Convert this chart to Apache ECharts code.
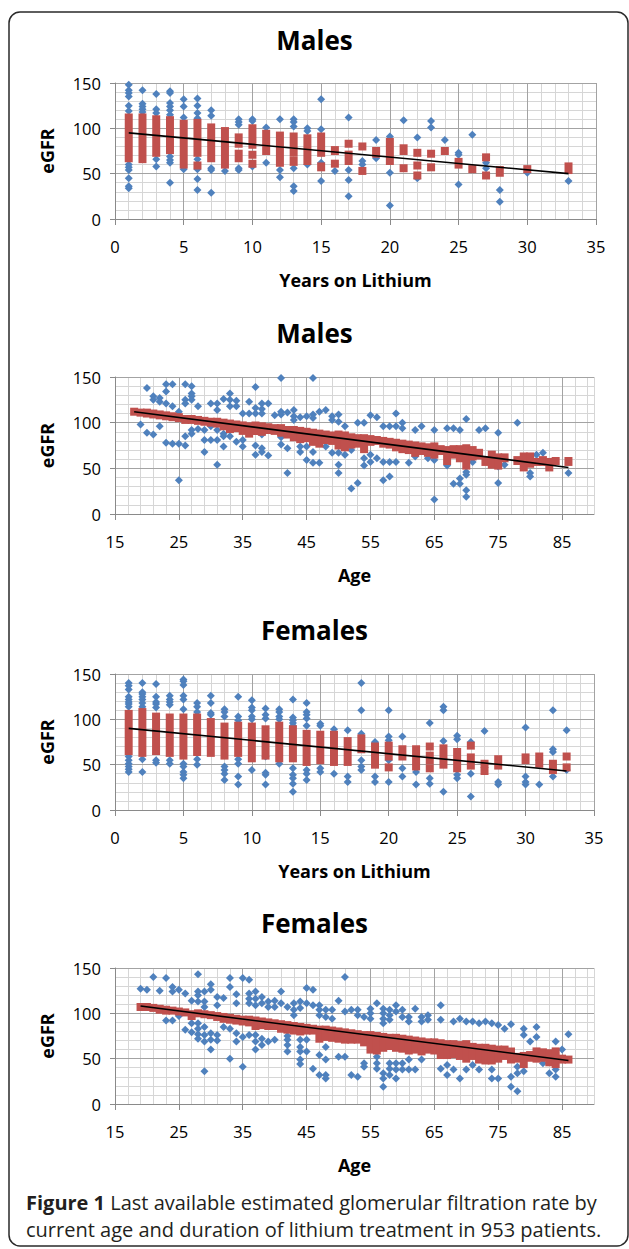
<!DOCTYPE html>
<html>
<head>
<meta charset="utf-8">
<script src="https://cdn.jsdelivr.net/npm/echarts@6.0.0/dist/echarts.min.js"></script>
<style>
html,body{margin:0;padding:0;background:#ffffff;}
#chart{width:629px;height:1249px;}
</style>
</head>
<body>
<div id="chart"></div>
<script>
// ---------- text ----------
const eGFRTicks = [0, 50, 100, 150];
const yearsTicks = [0, 5, 10, 15, 20, 25, 30, 35];
const ageTicks = [15, 25, 35, 45, 55, 65, 75, 85];
const panelTitles = ['Males', 'Males', 'Females', 'Females'];
const xAxisTitles = ['Years on Lithium', 'Age', 'Years on Lithium', 'Age'];
const yAxisTitle = 'eGFR';
const captionBold = 'Figure 1';
const captionLine1 = ' Last available estimated glomerular filtration rate by';
const captionLine2 = 'current age and duration of lithium treatment in 953 patients.';

// ---------- Males, years on lithium ----------
const malesYearsObs = [
  [1,[148,142,139,135,125,119,60,57,54,45,36,34]],
  [2,[142,127,124,121,118]],
  [3,[138,121,117,66,58]],
  [4,[141,139,128,124,120,115,69,65,62,40]],
  [5,[132,124,112,55]],
  [6,[133,125,117,111,66,55,44,32]],
  [7,[120,114,56,54,29]],
  [8,[53]],
  [9,[110,107,104,56,54]],
  [10,[110,108,58]],
  [11,[101,62]],
  [12,[110,54,46]],
  [13,[110,107,102,56,36,31]],
  [14,[100,97,60]],
  [15,[132,99,62,42]],
  [16,[53]],
  [17,[112,54,43,25]],
  [18,[64,60]],
  [19,[87,67]],
  [20,[91,51,15]],
  [21,[109]],
  [22,[90,45]],
  [23,[108,101]],
  [24,[87]],
  [25,[73,71,38]],
  [26,[93]],
  [27,[62,56]],
  [28,[32,19]],
  [30,[51]],
  [33,[42]]
];
const malesYearsPred = [
  [1,67,112],[2,66,112],[3,73,110],[4,76,109],[5,60,105],[6,73,106],[6,59,59],
  [7,67,101],[8,60,97],[9,83,90],[9,67,72],[10,82,100],[10,71,71],[10,61,61],
  [11,75,94],[12,62,92],[13,82,91],[13,73,73],[13,63,64],[14,64,89],[15,73,91],
  [15,57,58],[16,75,76],[16,61,61],[17,83,83],[17,64,71],[18,80,80],[18,53,53],
  [19,72,75],[20,64,85],[21,75,78],[21,56,56],[22,73,73],[22,59,59],[22,48,48],
  [23,72,72],[23,57,57],[24,75,75],[25,60,63],[26,55,55],[27,68,68],[27,48,48],
  [28,51,54],[30,55,55],[33,54,58]
];
const malesYearsTrend = [[1,95],[33,50]];

// ---------- Males, age ----------
const malesAgeObs = [
  [19,[98]],[20,[138,89]],[21,[129,125,87]],[22,[127,123,96]],[23,[142,134,121,78]],
  [24,[142,118,77]],[25,[112,77,37]],[26,[142,125,121,85,75]],[27,[140,132,129,125,92,88]],
  [28,[118,93]],[29,[92,81,68]],[30,[121,96,81]],[31,[121,114,92,81,54]],[32,[126,88,85,74]],
  [33,[132,125,118,85]],[34,[124,118,79]],[35,[110,81,74]],[36,[123,110]],
  [37,[139,116,110,75,65]],[38,[121,115,110,87,72,68]],[39,[121,64]],[40,[108]],
  [41,[149,112,109,84,76]],[42,[111,72,45]],[43,[114,107,103]],[44,[106,74,68]],
  [45,[107,74,59]],[46,[149,109,105,68,56]],[47,[112,78,56]],[48,[114,74]],
  [49,[107,103,67]],[50,[109,101,67,54,45]],[51,[96,65]],[52,[70,28]],[53,[100,34]],
  [54,[100,61,53]],[55,[108,65,57]],[56,[106,61]],[57,[96,57,37]],[58,[96,57,41]],
  [59,[110,96,57]],[60,[100,94]],[61,[56]],[62,[92,63]],[63,[96]],[64,[61]],
  [65,[92,59,16]],[67,[94,53]],[68,[94,33]],[69,[92,39,33]],[70,[104,46,43,26,19]],
  [71,[57]],[72,[92]],[73,[94]],[75,[89,52,34]],[76,[54]],[78,[100]],[80,[45,41]],
  [81,[65]],[82,[67]],[86,[45]]
];
const malesAgePred = [
  [18,112,112],[19,111,111],[20,110,111],[21,109,110],[22,108,109],[23,107,108],
  [24,106,107],[25,105,106],[26,103,104],[27,103,104],[28,102,103],[29,101,102],
  [30,100,101],[31,99,101],[32,96,100],[33,93,99],[34,94,98],[35,91,97],[36,88,96],
  [37,91,97],[38,90,96],[39,92,95],[40,91,94],[41,89,94],[42,87,92],[43,84,92],
  [44,82,91],[45,83,90],[46,79,89],[47,77,88],[48,81,87],[49,80,86],[50,75,87],
  [51,73,86],[52,76,84],[53,77,83],[54,71,83],[55,79,82],[56,80,81],[57,77,80],
  [58,76,79],[59,73,78],[60,71,77],[61,70,76],[62,67,75],[63,69,74],[64,67,73],
  [65,65,74],[66,69,71],[67,58,70],[68,65,71],[69,61,71],[70,53,72],[71,63,70],
  [72,64,67],[73,57,59],[74,54,65],[75,53,62],[76,61,62],[78,58,59],[79,51,63],
  [80,55,63],[81,57,57],[82,57,59],[83,51,57],[84,58,58],[86,57,58]
];
const malesAgeTrend = [[18,112],[86,51]];

// ---------- Females, years on lithium ----------
const femalesYearsObs = [
  [1,[140,137,133,125,122,119,117,114,59,55,51,48,45,42]],
  [2,[140,130,128,125,122,118,114,56,42]],
  [3,[139,125,119,117,113,55,52]],
  [4,[126,122,119,116,55,51]],
  [5,[144,142,138,126,122,111,51,48,42,39,35]],
  [6,[118,114,108,56,50]],
  [7,[126,118,107,105]],
  [8,[111,108,103,48,44,40,33]],
  [9,[125,103,99,56,51,37,28]],
  [10,[121,113,110,103,100,44]],
  [11,[112,105,101,59,41,39,28]],
  [12,[111,108,103,100,51]],
  [13,[122,102,99,96,93,46,39,35,29,20]],
  [14,[118,108,105,101,93,44,40,33]],
  [15,[95,93,46,42]],
  [16,[89,40]],
  [17,[88,37,31]],
  [18,[140,110,84,55,48,44]],
  [19,[75,74,37,31]],
  [20,[110,81,77,55,31]],
  [21,[81,46,37]],
  [22,[42,28]],
  [23,[96,35,29]],
  [24,[114,110,76,20]],
  [25,[82,78,39,35]],
  [26,[75,40,15]],
  [27,[87]],
  [28,[31,28]],
  [30,[91,37,31,28]],
  [31,[28]],
  [32,[110,67,64,37]],
  [33,[88,44]]
];
const femalesYearsPred = [
  [1,65,106],[2,63,108],[3,65,103],[4,63,102],[5,60,102],[6,64,102],[7,63,97],
  [8,60,92],[9,63,93],[10,57,92],[11,60,89],[12,57,93],[13,57,89],[14,53,84],
  [15,55,83],[16,53,83],[17,53,76],[18,67,79],[19,50,70],[20,59,71],[20,47,47],
  [21,59,67],[22,48,67],[23,70,70],[23,55,60],[23,46,46],[24,50,68],[25,46,64],
  [26,71,71],[26,49,58],[27,51,51],[27,43,43],[28,49,56],[30,55,58],[31,59,59],
  [31,51,51],[32,44,51],[33,59,59],[33,47,47]
];
const femalesYearsTrend = [[1,90],[33,43]];

// ---------- Females, age ----------
const femalesAgeObs = [
  [19,[127]],[20,[126]],[21,[140]],[22,[125]],[23,[139,92]],[24,[129,124,92]],
  [25,[126,97]],[26,[122,82]],[27,[114,89,79]],[28,[143,124,120,113,89,83,77,72]],
  [29,[124,113,107,85,76,69,36]],[30,[132,126,78,71,60]],[31,[118,109,76,70]],
  [32,[117,85]],[33,[139,129,83,50]],[34,[121,111,78,69]],[35,[139,74,41]],
  [36,[137,122,116,111,76]],[37,[124,116,109,76,69,60]],[38,[118,111,72,65]],
  [39,[113,107,69]],[40,[114,107,71]],[41,[124,111]],[42,[107,75,71,65,58]],
  [43,[111,104,98]],[44,[113,106,71,63,58,49,44]],[45,[128,111,71,58]],
  [46,[126,109,39]],[47,[109,104,98,54,32]],[48,[104,96,63,49,32,28]],
  [49,[104,94]],[50,[114,52]],[51,[140,102,52]],[52,[104,32]],[53,[104,98,30]],
  [54,[96,45,41]],[55,[105,100,94]],[56,[111,52,45,39]],[57,[105,100,94,89,34,28,19]],
  [58,[104,98,93,45,39,32]],[59,[109,102,45,38,28]],[60,[104,96,45,38]],
  [61,[96,91,49,38]],[62,[105,38]],[63,[96,91,49]],[64,[98,93]],[66,[109,93,39]],
  [67,[43,32]],[68,[91,38]],[69,[94,28]],[70,[91,38]],[71,[91,43]],[72,[89,38]],
  [73,[91]],[74,[89,38,28]],[75,[87,28]],[76,[83]],[77,[88,30,19]],[78,[41,34,14]],
  [79,[83,76,36]],[80,[69]],[81,[85,74]],[82,[45,50]],[83,[34]],[84,[69,38,30]],
  [85,[60]],[86,[77]]
];
const femalesAgePred = [
  [19,107,107],[20,107,107],[21,106,106],[22,104,105],[23,103,104],[24,103,103],
  [25,102,102],[26,101,101],[27,97,99],[28,100,100],[29,99,99],[30,98,98],
  [31,96,97],[32,94,96],[33,93,95],[34,92,94],[35,91,93],[36,90,93],[37,86,92],
  [38,87,91],[39,86,90],[40,86,89],[41,83,88],[42,82,87],[43,81,86],[44,80,85],
  [45,81,84],[46,81,83],[47,72,82],[48,74,82],[49,73,81],[50,72,80],[51,71,79],
  [52,71,78],[53,71,77],[54,68,76],[55,60,76],[56,59,75],[57,62,74],[58,64,73],
  [59,62,73],[60,61,72],[61,59,71],[62,60,70],[63,58,69],[64,60,68],[65,59,68],
  [66,54,67],[67,54,66],[68,55,66],[69,53,65],[70,50,66],[71,53,63],[72,49,62],
  [73,48,62],[74,48,61],[75,50,60],[76,53,60],[77,49,58],[78,50,52],[79,44,53],
  [80,51,54],[81,50,58],[82,51,57],[83,46,56],[84,44,58],[85,49,50],[86,49,49]
];
const femalesAgeTrend = [[19,108],[86,48]];

// ---------- styling ----------
const FONT = "'Open Sans', 'DejaVu Sans', sans-serif";
const BLUE = '#4f81bd';
const RED = '#c0504d';
const MAJOR = '#a3a3a3';
const MINOR = '#d6d6d6';
const AXIS = '#8a8a8a';

const panels = [
  {obs: malesYearsObs, pred: malesYearsPred, trend: malesYearsTrend, xTicks: yearsTicks,
   xMin: 0, xMax: 35, xMajor: 5, xMinor: 1, grid: {left: 115, top: 83, width: 481, height: 136}, titleTop: 25, sq: 8},
  {obs: malesAgeObs, pred: malesAgePred, trend: malesAgeTrend, xTicks: ageTicks,
   xMin: 15, xMax: 90, xMajor: 10, xMinor: 2, grid: {left: 115, top: 377, width: 479, height: 137}, titleTop: 318, sq: 8},
  {obs: femalesYearsObs, pred: femalesYearsPred, trend: femalesYearsTrend, xTicks: yearsTicks,
   xMin: 0, xMax: 35, xMajor: 5, xMinor: 1, grid: {left: 115, top: 674, width: 479, height: 136}, titleTop: 615, sq: 8},
  {obs: femalesAgeObs, pred: femalesAgePred, trend: femalesAgeTrend, xTicks: ageTicks,
   xMin: 15, xMax: 90, xMajor: 10, xMinor: 2, grid: {left: 115, top: 968, width: 479, height: 136}, titleTop: 908, sq: 8}
];

function flattenObs(groups) {
  const out = [];
  groups.forEach(function (g) { g[1].forEach(function (y) { out.push([g[0], y]); }); });
  return out;
}
function redRenderer(w) {
  return function (params, api) {
    const x = api.value(0), lo = api.value(1), hi = api.value(2);
    const top = api.coord([x, hi]);
    const bot = api.coord([x, lo]);
    return {
      type: 'rect',
      shape: {x: top[0] - w / 2, y: top[1] - w / 2, width: w, height: bot[1] - top[1] + w},
      style: {fill: RED}
    };
  };
}

const option = {
  animation: false,
  textStyle: {fontFamily: FONT},
  title: [],
  grid: [],
  xAxis: [],
  yAxis: [],
  series: [],
  graphic: [{
    type: 'rect', silent: true,
    shape: {x: 9, y: 12, width: 619, height: 1234, r: 11},
    style: {fill: 'none', stroke: '#2a2a2a', lineWidth: 1.5}
  }]
};

panels.forEach(function (p, i) {
  option.title.push({
    text: panelTitles[i], left: 'center', top: p.titleTop, padding: 0,
    textStyle: {fontFamily: FONT, fontSize: 26, fontWeight: 'bold', color: '#000', lineHeight: 30}
  });
  option.grid.push(Object.assign({outerBoundsMode: 'none', containLabel: false}, p.grid));
  // minor x
  option.xAxis.push({
    type: 'value', gridIndex: i, position: 'bottom', min: p.xMin, max: p.xMax, interval: p.xMinor, z: 0,
    axisLine: {show: false}, axisTick: {show: false}, axisLabel: {show: false},
    splitLine: {show: true, lineStyle: {color: MINOR, width: 1}}
  });
  // major x
  option.xAxis.push({
    type: 'value', gridIndex: i, position: 'bottom', min: p.xMin, max: p.xMax, interval: p.xMajor, z: 1,
    name: xAxisTitles[i], nameLocation: 'middle', nameGap: 61,
    nameTextStyle: {fontFamily: FONT, fontSize: 18, fontWeight: 'bold', color: '#000', verticalAlign: 'middle'},
    axisLine: {show: true, onZero: false, lineStyle: {color: AXIS, width: 1}},
    axisTick: {show: true, length: 6, customValues: p.xTicks, lineStyle: {color: AXIS}},
    axisLabel: {customValues: p.xTicks, margin: 19, fontFamily: FONT, fontSize: 16.5, color: '#000'},
    splitLine: {show: true, lineStyle: {color: MAJOR, width: 1}}
  });
  // minor y
  option.yAxis.push({
    type: 'value', gridIndex: i, position: 'left', min: 0, max: 150, interval: 10, z: 0,
    axisLine: {show: false}, axisTick: {show: false}, axisLabel: {show: false},
    splitLine: {show: true, lineStyle: {color: MINOR, width: 1}}
  });
  // major y
  option.yAxis.push({
    type: 'value', gridIndex: i, position: 'left', min: 0, max: 150, interval: 50, z: 1,
    name: yAxisTitle, nameLocation: 'middle', nameGap: 68,
    nameTextStyle: {fontFamily: FONT, fontSize: 18, fontWeight: 'bold', color: '#000', verticalAlign: 'middle'},
    axisLine: {show: true, onZero: false, lineStyle: {color: AXIS, width: 1}},
    axisTick: {show: true, length: 5, customValues: eGFRTicks, lineStyle: {color: AXIS}},
    axisLabel: {customValues: eGFRTicks, margin: 14, fontFamily: FONT, fontSize: 16.5, color: '#000'},
    splitLine: {show: true, lineStyle: {color: MAJOR, width: 1}}
  });
  const xi = 2 * i + 1, yi = 2 * i + 1;
  option.series.push({
    type: 'scatter', xAxisIndex: xi, yAxisIndex: yi, silent: true, z: 2,
    symbol: 'diamond', symbolSize: 8, itemStyle: {color: BLUE, opacity: 1},
    data: flattenObs(p.obs)
  });
  option.series.push({
    type: 'custom', xAxisIndex: xi, yAxisIndex: yi, silent: true, z: 3,
    encode: {x: 0, y: [1, 2]}, renderItem: redRenderer(p.sq), data: p.pred
  });
  option.series.push({
    type: 'line', xAxisIndex: xi, yAxisIndex: yi, silent: true, z: 4,
    symbol: 'none', showSymbol: false, lineStyle: {color: '#000', width: 1.6}, data: p.trend
  });
});

option.title.push({
  left: 26, top: 1189, padding: 0,
  text: '{b|' + captionBold + '}{n|' + captionLine1 + '}\n{n|' + captionLine2 + '}',
  textStyle: {
    rich: {
      b: {fontFamily: FONT, fontSize: 20, fontWeight: 'bold', color: '#231f20', lineHeight: 27},
      n: {fontFamily: FONT, fontSize: 20, fontWeight: 'normal', color: '#231f20', lineHeight: 27}
    }
  }
});

const chart = echarts.init(document.getElementById('chart'), null, {renderer: 'svg', width: 629, height: 1249});
chart.setOption(option);
</script>
</body>
</html>
